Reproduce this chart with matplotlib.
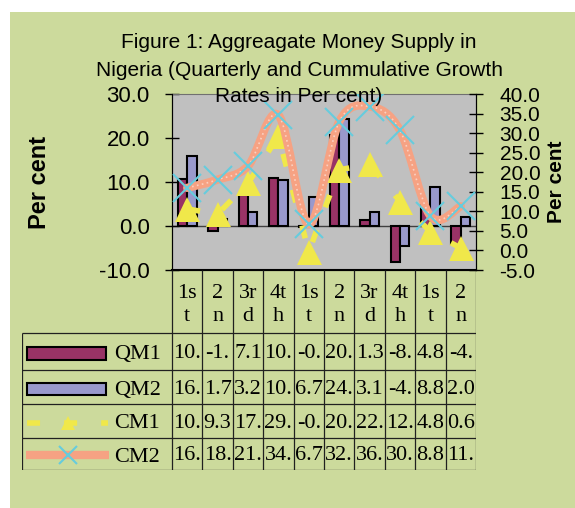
import numpy as np
import matplotlib.pyplot as plt
from matplotlib.patches import Rectangle, PathPatch
from matplotlib.path import Path

plt.rcParams["font.family"] = ["Liberation Sans", "DejaVu Sans"]
plt.rcParams["axes.unicode_minus"] = False

# Данные графика
quarters = ["1s\nt", "2\nn", "3r\nd", "4t\nh", "1s\nt", "2\nn", "3r\nd", "4t\nh", "1s\nt", "2\nn"]
qm1 = [10.6, -1.1, 7.1, 10.9, -0.3, 20.7, 1.3, -8.2, 4.8, -4.1]
qm2 = [16.0, 1.7, 3.2, 10.5, 6.7, 24.3, 3.1, -4.5, 8.8, 2.0]
cm1 = [10.6, 9.3, 17.2, 29.2, -0.3, 20.6, 22.1, 12.5, 4.8, 0.6]
cm2 = [16.0, 18.1, 21.6, 34.6, 6.7, 32.9, 36.8, 30.7, 8.8, 11.3]
title_lines = ["Figure 1: Aggreagate Money Supply in",
               "Nigeria (Quarterly and Cummulative Growth",
               "Rates in Per cent)"]

GREEN = "#CCDA9C"
MAROON = "#993366"
LAVENDER = "#9999CC"
YELLOW = "#F0E84A"
SALMON = "#F6A283"
CYAN = "#66CCDD"

W, H = 575, 508


def smooth_path(xs, ys):
    # Сглаженная линия как в Excel (кривые Безье через точки)
    pts = np.column_stack([xs, ys]).astype(float)
    n = len(pts)
    verts = [pts[0]]
    codes = [Path.MOVETO]
    for i in range(n - 1):
        p0 = pts[i - 1] if i > 0 else pts[i]
        p1 = pts[i]
        p2 = pts[i + 1]
        p3 = pts[i + 2] if i + 2 < n else pts[i + 1]
        verts += [p1 + (p2 - p0) / 6, p2 - (p3 - p1) / 6, p2]
        codes += [Path.CURVE4] * 3
    return Path(verts, codes)


fig = plt.figure(figsize=(W / 100, H / 100), dpi=100)
fig.patch.set_facecolor("white")
fig.patches.append(Rectangle((10 / W, 0), 1, 1 - 12 / H, transform=fig.transFigure,
                             facecolor=GREEN, edgecolor="none", zorder=-10))

ax = fig.add_axes([172 / W, 1 - 270 / H, 304 / W, 176 / H])
ax.set_facecolor("#C0C0C0")
x = np.arange(len(qm1))
ax.bar(x - 0.155, qm1, 0.31, color=MAROON, edgecolor="black", linewidth=1.5, zorder=2)
ax.bar(x + 0.155, qm2, 0.31, color=LAVENDER, edgecolor="black", linewidth=1.5, zorder=2)
ax.axhline(0, color="#404040", linewidth=1, zorder=1)
ax.set_xlim(-0.5, 9.5)
ax.set_ylim(-10, 30)
ax.set_xticks([])
ax.set_yticks([-10, 0, 10, 20, 30])
ax.set_yticklabels([f"{v:.1f}" for v in [-10, 0, 10, 20, 30]])
ax.tick_params(axis="y", direction="inout", length=10, width=1, labelsize=16, pad=11)
ax.spines["top"].set_color("#707070")
ax.spines["bottom"].set_linewidth(1.5)

ax2 = ax.twinx()
ax2.set_ylim(-5, 40)
rticks = np.arange(-5, 45, 5)
ax2.set_yticks(rticks)
ax2.set_yticklabels([f"{v:.1f}" for v in rticks])
ax2.tick_params(axis="y", direction="inout", length=10, width=1, labelsize=15, pad=12)
ax2.spines["top"].set_visible(False)

dash = (0, (9.4 / 4, 17.3 / 4))
ax2.plot(x, cm1, color=YELLOW, linewidth=4, linestyle=dash, zorder=3)
ax2.plot(x, cm1, linestyle="none", marker="^", markersize=18, color=YELLOW,
         markeredgewidth=0, zorder=4)
path = smooth_path(x, cm2)
ax2.add_patch(PathPatch(path, fill=False, edgecolor=SALMON, linewidth=6, zorder=5,
                        capstyle="round", joinstyle="round"))
ax2.add_patch(PathPatch(path, fill=False, edgecolor="white", linewidth=1.2, alpha=0.5,
                        linestyle=(0, (1, 2)), zorder=5))
ax2.plot(x, cm2, linestyle="none", marker="x", markersize=20, markeredgewidth=1.5,
         color=CYAN, zorder=6)

# Таблица данных под графиком
tab = fig.add_axes([21.7 / W, 1 - 470 / H, 454.3 / W, 200 / H])
left = -0.5 - (172 - 21.7) / 30.4
tab.set_xlim(left, 9.5)
tab.set_ylim(200, 0)
tab.axis("off")


def u(px):
    return left + (px - 21.7) / 30.4


grid = dict(color="#202020", linewidth=0.9, solid_capstyle="butt")
for i in range(len(quarters) + 1):
    tab.plot([i - 0.5, i - 0.5], [0, 200], **grid)
tab.plot([left, left], [63, 200], **grid)
for yy in [63, 100, 134, 168, 200]:
    tab.plot([left, 9.5], [yy, yy], **grid)

serif = dict(family=["Liberation Serif", "DejaVu Serif"], fontsize=16)
for i, q in enumerate(quarters):
    tab.text(i, 35, q, ha="center", va="center", linespacing=1.3, **serif)

rows = [("QM1", qm1), ("QM2", qm2), ("CM1", cm1), ("CM2", cm2)]
centers = [81.5, 117, 151, 184]
for (name, vals), c in zip(rows, centers):
    for i, v in enumerate(vals):
        tab.text(i, c + 2, f"{v:.1f}"[:3], ha="center", va="center", **serif)
    tab.text(u(114), c + 3, name, ha="left", va="center", **serif)

# Ключи легенды
tab.add_patch(Rectangle((u(27), centers[0] - 4.5), u(106) - u(27), 12.7,
                        facecolor=MAROON, edgecolor="black", linewidth=1.5))
tab.add_patch(Rectangle((u(27), centers[1] - 4.5), u(106) - u(27), 12.7,
                        facecolor=LAVENDER, edgecolor="black", linewidth=1.5))
tab.plot([u(27), u(108)], [centers[2] + 2, centers[2] + 2], color=YELLOW, linewidth=4,
         linestyle=dash)
tab.plot([u(68)], [centers[2] + 2], marker="^", markersize=10, color=YELLOW,
         markeredgewidth=0)
tab.plot([u(26), u(109)], [centers[3] + 1, centers[3] + 1], color=SALMON, linewidth=6,
         solid_capstyle="butt")
tab.plot([u(68)], [centers[3] + 1], marker="x", markersize=13, markeredgewidth=1.5,
         color=CYAN)

# Заголовок по строкам
for line, yy in zip(title_lines, [42, 70, 97]):
    fig.text(299 / W, 1 - yy / H, line, ha="center", va="center", fontsize=15)
fig.text(40 / W, 1 - 182 / H, "Per cent", rotation=90, ha="center", va="center",
         fontsize=17, fontweight="bold")
fig.text(556 / W, 1 - 182 / H, "Per cent", rotation=90, ha="center", va="center",
         fontsize=15, fontweight="bold")

fig.savefig("out.png", dpi=100)
